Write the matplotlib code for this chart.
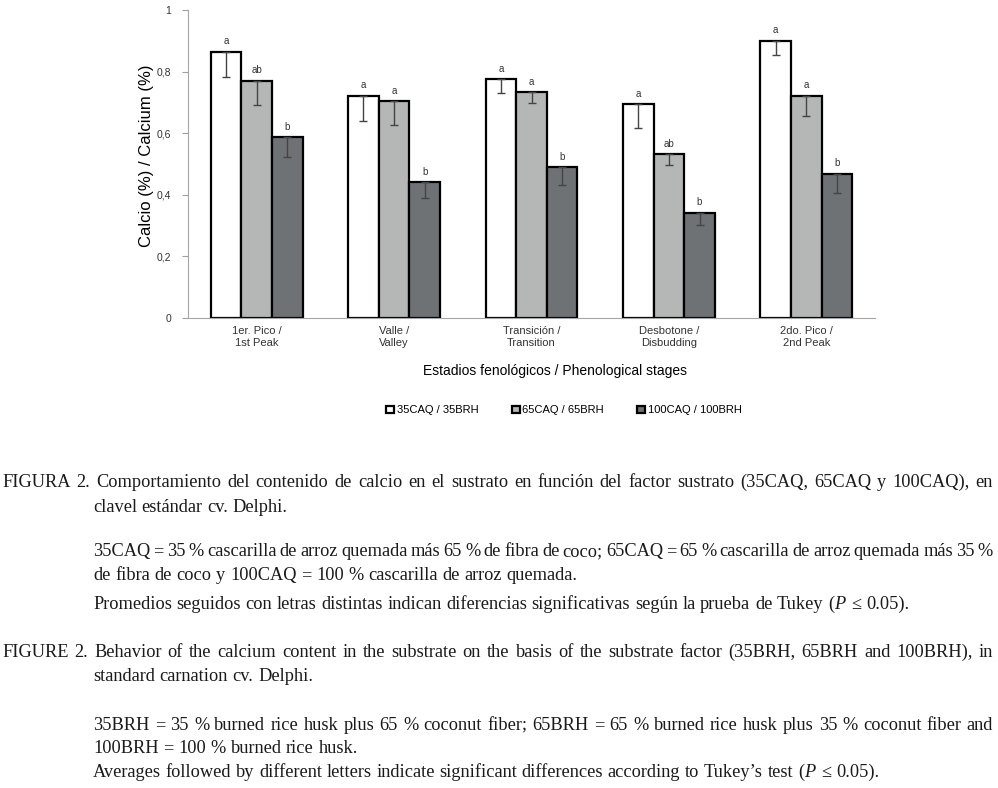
import matplotlib
matplotlib.use("Agg")
import matplotlib.pyplot as plt
import numpy as np

plt.rcParams['font.family'] = ['Liberation Sans', 'DejaVu Sans']
plt.rcParams['mathtext.fontset'] = 'custom'
plt.rcParams['mathtext.rm'] = 'Liberation Serif'
plt.rcParams['mathtext.it'] = 'Liberation Serif:italic'

# data
stages = ["1er. Pico /\n1st Peak", "Valle /\nValley", "Transición /\nTransition",
          "Desbotone /\nDisbudding", "2do. Pico /\n2nd Peak"]
series = ["35CAQ / 35BRH", "65CAQ / 65BRH", "100CAQ / 100BRH"]
ca_35 = [0.865, 0.721, 0.775, 0.694, 0.900]
ca_65 = [0.771, 0.703, 0.733, 0.531, 0.722]
ca_100 = [0.587, 0.440, 0.490, 0.342, 0.468]
err_35 = [0.083, 0.083, 0.045, 0.077, 0.047]
err_65 = [0.080, 0.077, 0.036, 0.035, 0.067]
err_100 = [0.064, 0.051, 0.059, 0.040, 0.062]
letters_35 = ["a", "a", "a", "a", "a"]
letters_65 = ["ab", "a", "a", "ab", "a"]
letters_100 = ["b", "b", "b", "b", "b"]
yticks = [0, 0.2, 0.4, 0.6, 0.8, 1]
ytick_labels = ["0", "0,2", "0,4", "0,6", "0,8", "1"]

caption = [
    ("FIGURA 2. Comportamiento del contenido de calcio en el sustrato en función del factor sustrato "
     "(35CAQ, 65CAQ y 100CAQ), en", 2, 487, True),
    ("clavel estándar cv. Delphi.", 93, 512, False),
    ("35CAQ = 35 % cascarilla de arroz quemada más 65 % de fibra de coco; 65CAQ = 65 % cascarilla "
     "de arroz quemada más 35 %", 93, 556, True),
    ("de fibra de coco y 100CAQ = 100 % cascarilla de arroz quemada.", 93, 580, False),
    ("Promedios seguidos con letras distintas indican diferencias significativas según la prueba "
     "de Tukey ($\\mathit{P}$ ≤ 0.05).", 93, 609, False),
    ("FIGURE 2. Behavior of the calcium content in the substrate on the basis of the substrate factor "
     "(35BRH, 65BRH and 100BRH), in", 2, 657, True),
    ("standard carnation cv. Delphi.", 93, 681, False),
    ("35BRH = 35 % burned rice husk plus 65 % coconut fiber; 65BRH = 65 % burned rice husk plus "
     "35 % coconut fiber and", 93, 730, True),
    ("100BRH = 100 % burned rice husk.", 93, 753, False),
    ("Averages followed by different letters indicate significant differences according to "
     "Tukey’s test ($\\mathit{P}$ ≤ 0.05).", 93, 777, False),
]

fig = plt.figure(figsize=(9.98, 7.88), dpi=100)
ax = fig.add_axes([188 / 998, 1 - 318 / 788, 687 / 998, 308 / 788])

x = np.arange(len(stages))
w = 0.223
colors = ["#ffffff", "#b5b7b6", "#6f7274"]
handles = []
for i, (vals, errs, lets) in enumerate([(ca_35, err_35, letters_35),
                                         (ca_65, err_65, letters_65),
                                         (ca_100, err_100, letters_100)]):
    xs = x + (i - 1) * w
    b = ax.bar(xs, vals, w, color=colors[i], edgecolor="black", linewidth=1.6, zorder=2)
    handles.append(b)
    ax.errorbar(xs, vals, yerr=[errs, np.zeros(len(errs))], fmt="none",
                ecolor="#444444", elinewidth=1, capsize=2.6, capthick=1, zorder=3)
    for xi, v, l in zip(xs, vals, lets):
        ax.annotate(l, (xi, v), xytext=(0, 4), textcoords="offset points",
                    ha="center", va="bottom", fontsize=7, color="#333333")

ax.set_xlim(-0.5, 4.5)
ax.set_ylim(0, 1)
ax.set_yticks(yticks)
ax.set_yticklabels(ytick_labels, fontsize=7.5, color="#333333")
ax.set_xticks(x)
ax.set_xticklabels(stages, fontsize=8, color="#333333", linespacing=1.25)
ax.tick_params(axis="x", length=0, pad=6)
ax.tick_params(axis="y", length=4, color="#a0a0a0", pad=8)
for s in ["top", "right"]:
    ax.spines[s].set_visible(False)
ax.spines["left"].set_color("#a6a6a6")
ax.spines["bottom"].set_color("#a6a6a6")

ax.set_ylabel("Calcio (%) / Calcium (%)", fontsize=12)
ax.yaxis.set_label_coords(-0.05, 0.526)
ax.set_xlabel("Estadios fenológicos / Phenological stages", fontsize=10)
ax.xaxis.set_label_coords(0.534, -0.149)

fig.legend(handles, series, loc="center", bbox_to_anchor=(564 / 998, 1 - 410 / 788),
           ncol=3, frameon=False, fontsize=8, handlelength=0.7, handleheight=0.6,
           handletextpad=0.25, columnspacing=3.0)

# caption below the chart, justified like the printed page
renderer = fig.canvas.get_renderer()
W, H = fig.bbox.width, fig.bbox.height
kw = dict(fontsize=13.2, family=["Liberation Serif", "DejaVu Serif"], color="#1a1a1a")
p1 = fig.text(0, 0, "a a", **kw)
p2 = fig.text(0, 0, "aa", **kw)
space = p1.get_window_extent(renderer).width - p2.get_window_extent(renderer).width
p1.remove()
p2.remove()
for text, x0, yb, justify in caption:
    words = text.split(" ")
    objs = [fig.text(0, 1 - yb / H, wd, va="baseline", **kw) for wd in words]
    widths = [o.get_window_extent(renderer).width for o in objs]
    gap = (993 - x0 - sum(widths)) / (len(words) - 1) if justify else space
    xp = x0
    for o, wd in zip(objs, widths):
        o.set_x(xp / W)
        xp += wd + gap

fig.savefig("out.png", dpi=100)
